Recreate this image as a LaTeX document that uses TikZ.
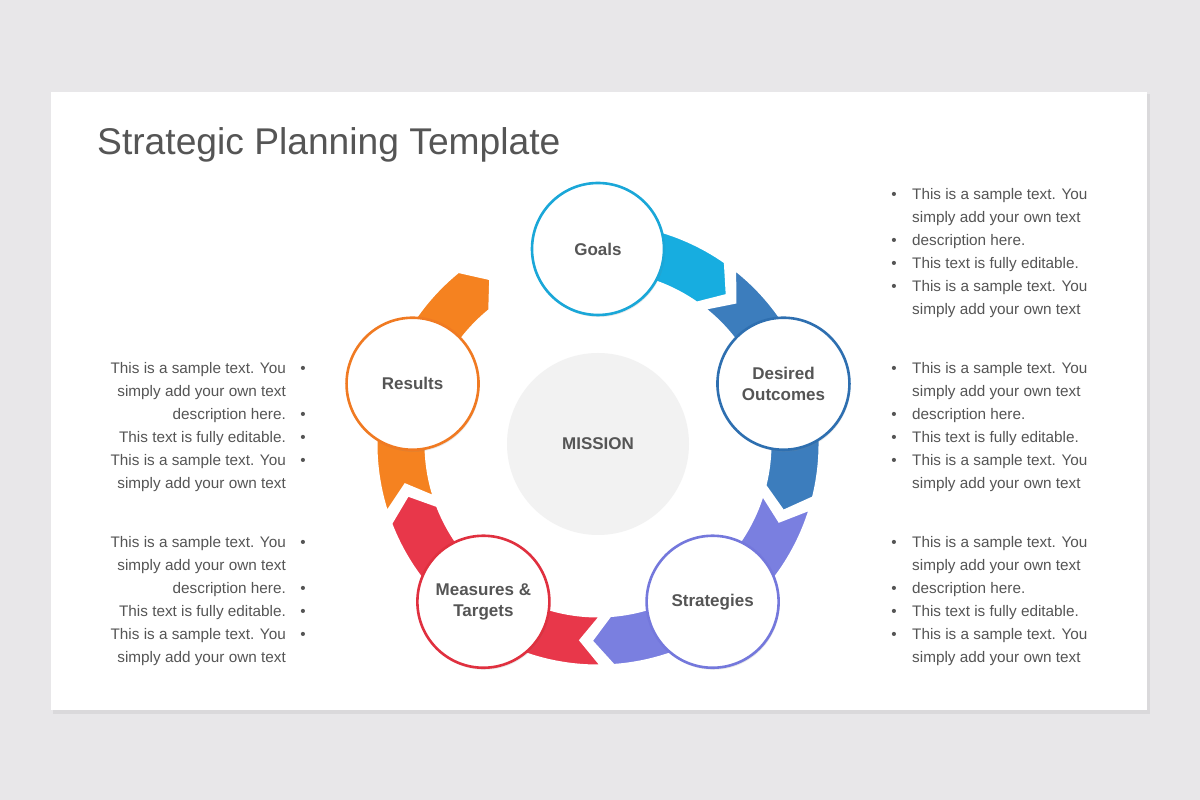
\documentclass[tikz,border=0pt]{standalone}
\usepackage{fontspec}
\setmainfont{Liberation Sans}
\usetikzlibrary{shadows}
\definecolor{bg}{HTML}{E8E7E9}
\definecolor{txt}{HTML}{555555}
\definecolor{cLB}{HTML}{17ADE0}
\definecolor{cDB}{HTML}{3C7DBD}
\definecolor{cPU}{HTML}{7A7FE0}
\definecolor{cRD}{HTML}{E8374A}
\definecolor{cOR}{HTML}{F58220}
\definecolor{bLB}{HTML}{1AA7D8}
\definecolor{bDB}{HTML}{2E6FB0}
\definecolor{bPU}{HTML}{7478DC}
\definecolor{bRD}{HTML}{E0303F}
\definecolor{bOR}{HTML}{F07A22}
\tikzset{
  ring/.style={circle,fill=white,line width=2.6pt,minimum size=132pt,inner sep=0pt,align=center,
    font=\fontsize{17}{21}\selectfont\bfseries,text=txt,
    drop shadow={opacity=0.18,shadow xshift=1pt,shadow yshift=-2pt}},
  band/.style={draw=white,line width=3pt,line join=miter},
  ln/.style={font=\fontsize{15.3}{17}\selectfont,text=txt,inner sep=0pt},
}
\newcommand{\seg}[3]{%
  \fill[#3,band] (#1:222) arc[start angle=#1,end angle=#2,radius=222]
   -- (#2-6:197) -- (#2:172) arc[start angle=#2,end angle=#1,radius=172]
   -- (#1-6:197) -- cycle;}
\newcommand{\rblock}[1]{%
  \foreach \t/\b [count=\i] in {This is a sample text. You/1,simply add your own text/0,description here./1,This text is fully editable./1,This is a sample text. You/1,simply add your own text/0}{
    \node[ln,anchor=base west] (r#1\i) at (912,#1-23*\i+23) {\t};
    \ifnum\b=1 \node[ln,anchor=base] (rb#1\i) at (894,#1-23*\i+23) {•};\fi}}
\newcommand{\lblock}[1]{%
  \foreach \t/\b [count=\i] in {This is a sample text. You/1,simply add your own text/0,description here./1,This text is fully editable./1,This is a sample text. You/1,simply add your own text/0}{
    \node[ln,anchor=base east] (l#1\i) at (286,#1-23*\i+23) {\t};
    \ifnum\b=1 \node[ln,anchor=base] (lb#1\i) at (303,#1-23*\i+23) {•};\fi}}
\begin{document}
\begin{tikzpicture}[x=1pt,y=1pt]
\fill[bg] (0,0) rectangle (1200,800);
\useasboundingbox (0,0) rectangle (1200,800);
\fill[black,opacity=0.06] (53,86) rectangle (1150,706);
\fill[white] (51,90) rectangle (1147,708);
\node[anchor=base west,inner sep=0pt,text=txt,font=\fontsize{37.2}{40}\selectfont] (title) at (97,645) {Strategic Planning Template};
\begin{scope}[shift={(598,356)}]
\seg{100}{55}{cLB}
\seg{52}{-14}{cDB}
\seg{-17}{-86}{cPU}
\seg{-89}{-159}{cRD}
\seg{-162}{-231}{cOR}
\node[circle,fill=black!5,minimum size=182pt,inner sep=0pt,font=\fontsize{17}{21}\selectfont\bfseries,text=txt] (mission) at (0,0) {MISSION};
\node[ring,draw=bLB] (goals) at (90:195) {Goals};
\node[ring,draw=bDB] (desired) at (18:195) {Desired\\Outcomes};
\node[ring,draw=bPU] (strat) at (-54:195) {Strategies};
\node[ring,draw=bRD] (meas) at (-126:195) {Measures \&\\Targets};
\node[ring,draw=bOR] (res) at (162:195) {Results};
\end{scope}
\rblock{600}
\rblock{426}
\rblock{252}
\lblock{426}
\lblock{252}
\end{tikzpicture}
\end{document}
